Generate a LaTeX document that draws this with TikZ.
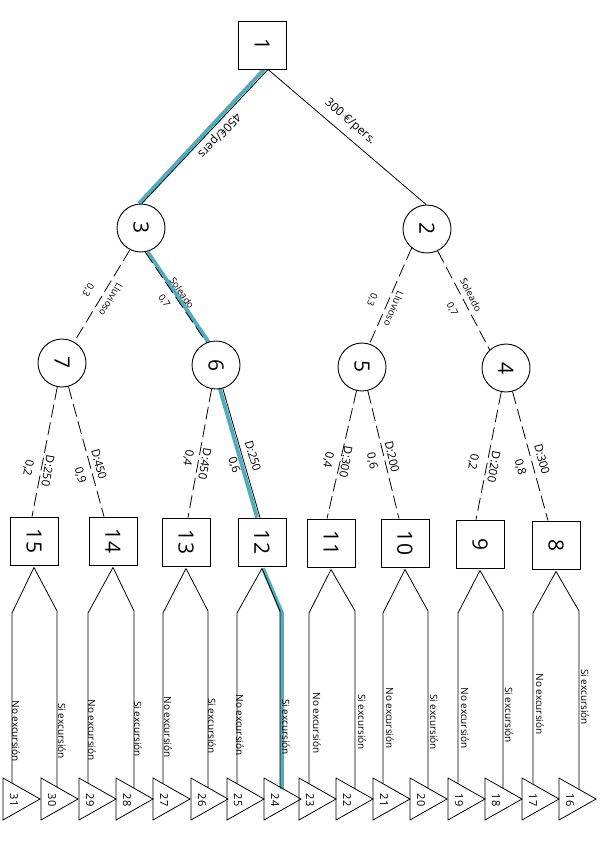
\documentclass[tikz,border=0pt]{standalone}
\usepackage{tikz}
\usepackage{fontspec}
\setmainfont{Open Sans}
\definecolor{hlteal}{RGB}{78,173,189}
\pgfdeclarelayer{bg}
\pgfsetlayers{bg,main}
\newcommand\trinode[3]{%
  \draw[ln] (#2,778) -- (#2,820) -- (#2+37,799) -- cycle;
  \node[trilbl] (#1) at (#2+11,800) {\rotatebox{-90}{#3}};}
\newcommand\forkpair[6]{%
  \coordinate (#6L) at (#2,{778+21*(#2-#4)/37});
  \coordinate (#6R) at (#3,{778+21*(#3-#5)/37});
  \draw[ln] ([yshift=-2pt]#1.south) -- (#2,613) -- (#6L);
  \draw[ln] ([yshift=-2pt]#1.south) -- (#3,611) -- (#6R);}
\begin{document}
\begin{tikzpicture}[x=1pt,y=-1pt,
  numfont/.style={font=\fontsize{21}{22}\selectfont},
  sq/.style={draw, fill=white, line width=0.9pt, minimum size=48pt, inner sep=0pt, numfont},
  circ/.style={draw, fill=white, circle, line width=0.9pt, minimum size=48pt, inner sep=0pt, numfont},
  ln/.style={line width=0.8pt},
  dsh/.style={line width=0.8pt, dash pattern=on 13pt off 5pt},
  hl/.style={line width=3.8pt, draw=hlteal},
  trilbl/.style={inner sep=0pt, font=\fontsize{11}{12}\selectfont},
  blbl/.style={inner sep=0pt, rotate=-90, font=\fontsize{10}{11}\selectfont},
  elbl/.style={inner sep=0pt, font=\fontsize{12}{13}\selectfont},
  slbl/.style={inner sep=0pt, font=\fontsize{9.5}{10}\selectfont},
  dlbl/.style={inner sep=0pt, font=\fontsize{11.5}{12}\selectfont}]
\begin{pgfonlayer}{bg}
\fill[white] (0,0) rectangle (600,848);
\end{pgfonlayer}
\useasboundingbox (0,0) rectangle (600,848);

% decision / chance nodes
\node[sq] (n1) at (262,45) {\rotatebox{-90}{1}};
\node[circ] (n3) at (141,228) {\rotatebox{-90}{3}};
\node[circ] (n2) at (427,229) {\rotatebox{-90}{2}};
\node[circ] (n7) at (62,363) {\rotatebox{-90}{7}};
\node[circ] (n6) at (216,365) {\rotatebox{-90}{6}};
\node[circ] (n5) at (362,367) {\rotatebox{-90}{5}};
\node[circ] (n4) at (506,368) {\rotatebox{-90}{4}};
\node[sq] (n15) at (34,541) {\rotatebox{-90}{15}};
\node[sq] (n14) at (113,541) {\rotatebox{-90}{14}};
\node[sq] (n13) at (186,542) {\rotatebox{-90}{13}};
\node[sq] (n12) at (262,542) {\rotatebox{-90}{12}};
\node[sq] (n11) at (331,543) {\rotatebox{-90}{11}};
\node[sq] (n10) at (405,543) {\rotatebox{-90}{10}};
\node[sq] (n9) at (480,544) {\rotatebox{-90}{9}};
\node[sq] (n8) at (556,545) {\rotatebox{-90}{8}};

% highlighted path (behind)
\begin{pgfonlayer}{bg}
\draw[hl] ([xshift=2pt]n1.south) -- ([xshift=-3pt]n3.88);
\draw[hl] ([xshift=2.5pt]n3.-80) -- ([xshift=2.5pt]n6.113);
\draw[hl] ([xshift=-3pt]n6.-74) -- ([xshift=-5pt]n12.north);
\draw[hl] ([xshift=1pt,yshift=-2pt]n12.south) -- (282,613) -- (282,789);
\end{pgfonlayer}

% top branches
\draw[ln] ([xshift=6pt]n1.south) -- (n3.88);
\draw[ln] ([xshift=6pt]n1.south) -- (n2.92);
% second level
\draw[dsh] (n3.-117) -- (n7.60);
\draw[dsh] (n3.-80) -- (n6.113);
\draw[dsh] (n2.-129) -- (n5.72);
\draw[dsh] (n2.-64) -- (n4.132);
% third level
\draw[dsh] (n7) -- ([xshift=-2pt]n15.north);
\draw[dsh] (n7) -- ([xshift=-9pt]n14.north);
\draw[dsh] (n6) -- ([xshift=2pt]n13.north);
\draw[ln] (n6) -- ([xshift=-2pt]n12.north);
\draw[dsh] (n5) -- ([xshift=-4pt]n11.north);
\draw[dsh] (n5) -- ([xshift=-6pt]n10.north);
\draw[dsh] (n4) -- ([xshift=-4pt]n9.north);
\draw[dsh] (n4) -- ([xshift=-8pt]n8.north);

% edge labels
\node[elbl, rotate=-133] (e13) at (219,135) {450€/pers};
\node[elbl, rotate=-41] (e12) at (350,122) {300 €/pers.};
\node[slbl, rotate=-121] (p37) at (88,290) {0,3};
\node[slbl, rotate=-121] (w37) at (111,300) {Lluvioso};
\node[slbl, rotate=-56] (p36) at (164,301) {0,7};
\node[slbl, rotate=-56] (w36) at (182,293) {Soleado};
\node[slbl, rotate=-113] (p25) at (372,300) {0,3};
\node[slbl, rotate=-113] (w25) at (394,309) {Lluvioso};
\node[slbl, rotate=-63] (p24) at (452,309) {0,7};
\node[slbl, rotate=-63] (w24) at (471,295) {Soleado};

\node[dlbl, rotate=-100] (p715) at (28,468) {0,2};
\node[dlbl, rotate=-100] (d715) at (48,471) {D:250};
\node[dlbl, rotate=-75] (p714) at (80,475) {0,9};
\node[dlbl, rotate=-75] (d714) at (99,464) {D:450};
\node[dlbl, rotate=-100] (p613) at (188,458) {0,4};
\node[dlbl, rotate=-100] (d613) at (205,464) {D:450};
\node[dlbl, rotate=-73] (p612) at (234,465) {0,6};
\node[dlbl, rotate=-73] (d612) at (253,456) {D:250};
\node[dlbl, rotate=-100] (p511) at (328,460) {0,4};
\node[dlbl, rotate=-100] (d511) at (346,462) {D:300};
\node[dlbl, rotate=-77] (p510) at (372,461) {0,6};
\node[dlbl, rotate=-77] (d510) at (392,457) {D:200};
\node[dlbl, rotate=-100] (p49) at (473,462) {0,2};
\node[dlbl, rotate=-100] (d49) at (494,467) {D:200};
\node[dlbl, rotate=-75] (p48) at (520,467) {0,8};
\node[dlbl, rotate=-75] (d48) at (542,459) {D:300};

% end triangles
\trinode{t31}{3}{31}
\trinode{t30}{41}{30}
\trinode{t29}{79}{29}
\trinode{t28}{116}{28}
\trinode{t27}{153}{27}
\trinode{t26}{191}{26}
\trinode{t25}{227}{25}
\trinode{t24}{264}{24}
\trinode{t23}{299}{23}
\trinode{t22}{336}{22}
\trinode{t21}{373}{21}
\trinode{t20}{410}{20}
\trinode{t19}{448}{19}
\trinode{t18}{485}{18}
\trinode{t17}{522}{17}
\trinode{t16}{559}{16}

% forks to end triangles
\forkpair{n15}{12}{57}{3}{41}{f15}
\forkpair{n14}{88}{134}{79}{116}{f14}
\forkpair{n13}{163}{208}{153}{191}{f13}
\forkpair{n12}{237}{280}{227}{264}{f12}
\forkpair{n11}{309}{355}{299}{336}{f11}
\forkpair{n10}{383}{428}{373}{410}{f10}
\forkpair{n9}{458}{503}{448}{485}{f9}
\forkpair{n8}{533}{579}{522}{559}{f8}

% fork labels
\node[blbl] (a15) at (16,731) {No excursión};
\node[blbl] (b15) at (62,731) {Si excursión};
\node[blbl] (a14) at (92,730) {No excursión};
\node[blbl] (b14) at (138,729) {Si excursión};
\node[blbl] (a13) at (168,727) {No excursión};
\node[blbl] (b13) at (212,726) {Si excursión};
\node[blbl] (a12) at (240,725) {No excursión};
\node[blbl] (b12) at (286,727) {Si excursión};
\node[blbl] (a11) at (317,723) {No excursión};
\node[blbl] (b11) at (362,722) {Si excursión};
\node[blbl] (a10) at (390,718) {No excursión};
\node[blbl] (b10) at (434,722) {Si excursión};
\node[blbl] (a9) at (465,718) {No excursión};
\node[blbl] (b9) at (509,715) {Si excursión};
\node[blbl] (a8) at (540,704) {No excursión};
\node[blbl] (b8) at (585,697) {Si excursión};
\end{tikzpicture}
\end{document}
